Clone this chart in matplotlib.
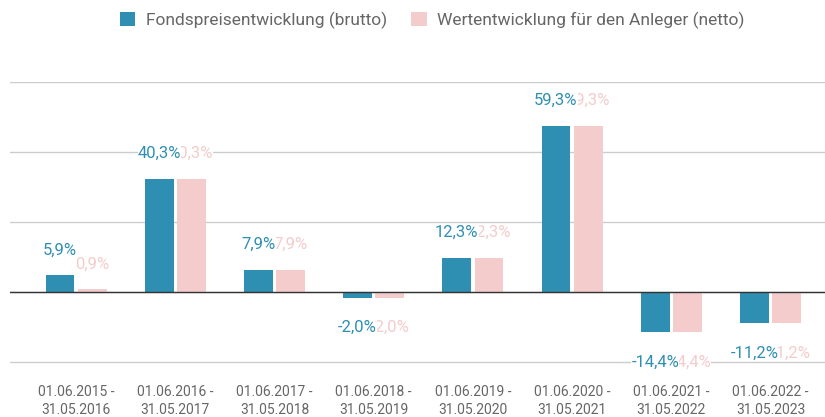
import numpy as np
import matplotlib.pyplot as plt

plt.rcParams['font.family'] = ['Roboto', 'DejaVu Sans']

# Daten
zeitraeume = ['01.06.2015 -\n31.05.2016', '01.06.2016 -\n31.05.2017', '01.06.2017 -\n31.05.2018',
              '01.06.2018 -\n31.05.2019', '01.06.2019 -\n31.05.2020', '01.06.2020 -\n31.05.2021',
              '01.06.2021 -\n31.05.2022', '01.06.2022 -\n31.05.2023']
brutto = [5.9, 40.3, 7.9, -2.0, 12.3, 59.3, -14.4, -11.2]
netto = [0.9, 40.3, 7.9, -2.0, 12.3, 59.3, -14.4, -11.2]
serien = ['Fondspreisentwicklung (brutto)', 'Wertentwicklung für den Anleger (netto)']

BLAU = '#2f8fb3'
ROSA = '#f4cccc'
GRAU = '#666666'

fig = plt.figure(figsize=(8.25, 4.17), dpi=100)
# 25 % = 70 px, 75 % liegt bei y=82 px
ax = fig.add_axes([10/825, 1-364.8/417, 815/825, 282.8/417])

x = np.arange(len(zeitraeume))
b = 0.29
off = 0.162
bars1 = ax.bar(x - off, brutto, b, color=BLAU, label=serien[0], zorder=3)
bars2 = ax.bar(x + off, netto, b, color=ROSA, label=serien[1], zorder=3)

def fmt(v):
    return ('%.1f%%' % v).replace('.', ',')

for xi, v in zip(x, netto):
    dy = 13 if v >= 0 else -16
    ax.annotate(fmt(v), (xi + off, v), xytext=(0, dy), textcoords='offset points',
                ha='center', va='bottom' if v >= 0 else 'top', fontsize=12, color=ROSA,
                bbox=dict(boxstyle='square,pad=0', fc='white', ec='none'), zorder=4)
for xi, v in zip(x, brutto):
    dy = 13 if v >= 0 else -16
    ax.annotate(fmt(v), (xi - off, v), xytext=(0, dy), textcoords='offset points',
                ha='center', va='bottom' if v >= 0 else 'top', fontsize=12, color=BLAU,
                bbox=dict(boxstyle='square,pad=0', fc='white', ec='none'), zorder=5)

ax.set_ylim(-26, 75)
ax.set_xlim(-0.667, 7.55)
ax.set_yticks([-25, 0, 25, 50, 75])
ax.yaxis.grid(True, color='#cccccc', linewidth=1, zorder=0)
ax.axhline(0, color='#333333', linewidth=1, zorder=4)
ax.tick_params(axis='y', left=False, labelleft=False)
ax.set_xticks(x)
ax.set_xticklabels(zeitraeume, fontsize=10, color=GRAU, linespacing=1.4)
ax.tick_params(axis='x', bottom=False, pad=11)
for s in ax.spines.values():
    s.set_visible(False)

fig.legend(loc='upper center', bbox_to_anchor=(0.524, 1.01), ncol=2, frameon=False,
           fontsize=12.5, labelcolor=GRAU, handlelength=0.9, handleheight=0.9,
           columnspacing=1.4, handletextpad=0.6)

fig.savefig('out.png', dpi=100)
